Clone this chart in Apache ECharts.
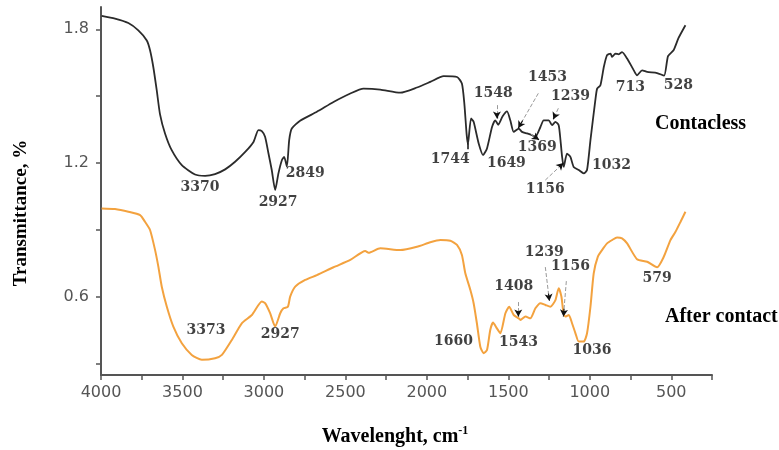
<!DOCTYPE html>
<html>
<head>
<meta charset="utf-8">
<script src="https://cdn.jsdelivr.net/npm/echarts@6/dist/echarts.min.js"></script>
<style>
  html, body { margin: 0; padding: 0; background: #fff; }
  #chart { width: 779px; height: 450px; }
</style>
</head>
<body>
<div id="chart"></div>
<script>
// FTIR spectra: wavenumber (cm-1) and transmittance for both samples
const contaclessWn = [3996, 3914, 3832, 3771, 3719, 3699, 3679, 3658, 3638, 3607, 3566, 3504, 3423, 3361, 3300, 3238, 3177, 3115, 3064, 3034, 3013, 2993, 2972, 2952, 2931, 2911, 2890, 2876, 2859, 2845, 2829, 2778, 2675, 2573, 2470, 2389, 2286, 2163, 2061, 1979, 1897, 1815, 1785, 1770, 1756, 1748, 1729, 1713, 1682, 1655, 1631, 1600, 1580, 1562, 1535, 1508, 1488, 1467, 1436, 1416, 1385, 1354, 1334, 1303, 1283, 1252, 1232, 1211, 1191, 1180, 1170, 1160, 1140, 1119, 1099, 1068, 1037, 1017, 996, 966, 955, 935, 914, 894, 873, 863, 843, 822, 802, 771, 730, 710, 679, 648, 587, 544, 520, 486, 456, 413];
const contaclessT  = [1.860, 1.848, 1.828, 1.795, 1.750, 1.706, 1.631, 1.527, 1.420, 1.333, 1.258, 1.191, 1.149, 1.143, 1.151, 1.172, 1.206, 1.250, 1.295, 1.348, 1.343, 1.318, 1.243, 1.169, 1.079, 1.154, 1.213, 1.228, 1.185, 1.303, 1.355, 1.390, 1.430, 1.474, 1.512, 1.534, 1.530, 1.516, 1.539, 1.564, 1.590, 1.586, 1.557, 1.467, 1.330, 1.285, 1.400, 1.385, 1.288, 1.236, 1.266, 1.362, 1.392, 1.372, 1.410, 1.432, 1.392, 1.340, 1.355, 1.340, 1.333, 1.325, 1.318, 1.362, 1.392, 1.392, 1.370, 1.385, 1.370, 1.303, 1.228, 1.183, 1.243, 1.228, 1.183, 1.169, 1.154, 1.169, 1.303, 1.482, 1.534, 1.549, 1.631, 1.684, 1.691, 1.676, 1.691, 1.688, 1.698, 1.669, 1.616, 1.594, 1.616, 1.609, 1.604, 1.592, 1.680, 1.706, 1.760, 1.818];

const afterWn = [3996, 3914, 3832, 3760, 3730, 3699, 3668, 3648, 3627, 3596, 3556, 3504, 3443, 3381, 3300, 3258, 3197, 3136, 3074, 3013, 2993, 2962, 2931, 2900, 2880, 2853, 2839, 2808, 2747, 2675, 2573, 2470, 2378, 2358, 2286, 2163, 2061, 1979, 1917, 1856, 1815, 1785, 1764, 1733, 1713, 1693, 1672, 1652, 1631, 1611, 1594, 1570, 1549, 1518, 1495, 1467, 1436, 1426, 1395, 1365, 1334, 1303, 1273, 1242, 1211, 1191, 1174, 1164, 1150, 1129, 1109, 1088, 1068, 1037, 1017, 996, 976, 951, 925, 894, 863, 833, 802, 771, 710, 648, 587, 546, 505, 474, 443, 413];
const afterT  = [0.997, 0.994, 0.982, 0.967, 0.937, 0.900, 0.810, 0.736, 0.646, 0.556, 0.467, 0.392, 0.340, 0.318, 0.325, 0.340, 0.407, 0.482, 0.519, 0.579, 0.572, 0.527, 0.467, 0.527, 0.549, 0.556, 0.601, 0.646, 0.676, 0.698, 0.733, 0.766, 0.806, 0.798, 0.818, 0.810, 0.825, 0.845, 0.855, 0.852, 0.833, 0.788, 0.706, 0.631, 0.572, 0.482, 0.377, 0.348, 0.362, 0.452, 0.485, 0.459, 0.437, 0.527, 0.556, 0.519, 0.504, 0.497, 0.512, 0.504, 0.549, 0.572, 0.564, 0.556, 0.586, 0.639, 0.601, 0.542, 0.512, 0.519, 0.482, 0.437, 0.400, 0.400, 0.437, 0.556, 0.706, 0.780, 0.810, 0.840, 0.855, 0.867, 0.863, 0.840, 0.769, 0.758, 0.733, 0.780, 0.855, 0.892, 0.937, 0.982];

// Peak annotations (text and anchor in wavenumber / transmittance units)
const contaclessPeaks = ['3370', '2927', '2849', '1744', '1649', '1548', '1453', '1239', '1369', '1156', '1032', '713', '528'];
const contaclessPeakX = [3392, 2913, 2747, 1856, 1512, 1592, 1260, 1119, 1322, 1273, 867, 751, 456];
const contaclessPeakY = [1.092, 1.025, 1.155, 1.218, 1.200, 1.513, 1.585, 1.500, 1.272, 1.083, 1.191, 1.540, 1.549];

const afterPeaks = ['3373', '2927', '1660', '1543', '1408', '1239', '1156', '1036', '579'];
const afterPeakX = [3355, 2900, 1836, 1437, 1467, 1279, 1119, 986, 587];
const afterPeakY = [0.452, 0.430, 0.400, 0.397, 0.646, 0.800, 0.736, 0.362, 0.684];

// Pointer arrows: [from, to]
const contaclessArrows = [
  [[1570, 1.46], [1570, 1.40]],
  [[1316, 1.513], [1439, 1.357]],
  [[1193, 1.446], [1224, 1.397]],
  [[1362, 1.330], [1312, 1.305]],
  [[1273, 1.124], [1162, 1.200]]
];
const afterArrows = [
  [[1439, 0.577], [1439, 0.512]],
  [[1273, 0.734], [1248, 0.582]],
  [[1144, 0.671], [1162, 0.512]]
];
const contaclessTick = [[1752, 1.289], [1752, 1.245]];

// Axis ticks and labels
const xTickValues = [250, 500, 750, 1000, 1250, 1500, 1750, 2000, 2250, 2500, 2750, 3000, 3250, 3500, 3750, 4000];
const xLabelValues = [500, 1000, 1500, 2000, 2500, 3000, 3500, 4000];
const yTickValues = [0.3, 0.6, 0.9, 1.2, 1.5, 1.8];
const yLabelValues = [0.6, 1.2, 1.8];

const BLACK = '#2b2b2b';
const ORANGE = '#f3a23f';
const SERIF = '"Liberation Serif", "Times New Roman", serif';
const NUM_FONT = '"DejaVu Serif", "Liberation Serif", serif';
const TICK_FONT = '"DejaVu Sans", sans-serif';

const zip = (a, b) => a.map((v, i) => [v, b[i]]);

function arrowLines(list, shaftColor) {
  const out = [];
  list.forEach(([from, to]) => {
    const f = 0.78;
    const mid = [from[0] + (to[0] - from[0]) * f, from[1] + (to[1] - from[1]) * f];
    out.push([
      { coord: from, symbol: 'none', lineStyle: { color: shaftColor, width: 1 } },
      { coord: mid, symbol: 'none' }
    ]);
    out.push([
      { coord: mid, symbol: 'none', lineStyle: { color: '#111', width: 1.2 } },
      { coord: to, symbol: 'arrow', symbolSize: [6, 7] }
    ]);
  });
  return out;
}

function peakLabels(texts, xs, ys, color) {
  return {
    type: 'scatter',
    symbolSize: 0,
    silent: true,
    data: texts.map((t, i) => [xs[i], ys[i], t]),
    label: {
      show: true,
      position: 'inside',
      formatter: p => p.value[2],
      fontFamily: NUM_FONT,
      fontWeight: 'bold',
      fontSize: 14,
      color: color
    },
    z: 5
  };
}

const chart = echarts.init(document.getElementById('chart'), null, { renderer: 'canvas' });

chart.setOption({
  animation: false,
  backgroundColor: '#fff',
  grid: { left: 101, right: 67, top: 7, bottom: 75, containLabel: false },
  xAxis: {
    type: 'value',
    inverse: true,
    min: 250,
    max: 4000,
    axisLine: { show: true, lineStyle: { color: '#555', width: 2 } },
    axisTick: { show: true, length: 5, inside: false, customValues: xTickValues, lineStyle: { color: '#555', width: 1.5 } },
    axisLabel: {
      customValues: xLabelValues,
      margin: 10,
      fontFamily: TICK_FONT,
      fontSize: 16,
      color: '#555',
      formatter: v => String(v)
    },
    splitLine: { show: false }
  },
  yAxis: {
    type: 'value',
    min: 0.25,
    max: 1.9,
    axisLine: { show: true, lineStyle: { color: '#555', width: 2 } },
    axisTick: { show: true, length: 5, inside: false, customValues: yTickValues, lineStyle: { color: '#555', width: 1.5 } },
    axisLabel: {
      customValues: yLabelValues,
      margin: 12,
      fontFamily: TICK_FONT,
      fontSize: 16,
      color: '#555',
      formatter: v => v.toFixed(1)
    },
    splitLine: { show: false }
  },
  graphic: [
    {
      type: 'text', x: 21, y: 213, rotation: Math.PI / 2,
      style: { text: 'Transmittance, %', font: 'bold 19px ' + SERIF, fill: '#000', align: 'center', verticalAlign: 'middle' }
    },
    {
      type: 'text', x: 395, y: 437,
      style: {
        text: '{b|Wavelenght, cm}{s|-1}',
        align: 'center',
        verticalAlign: 'middle',
        rich: {
          b: { font: 'bold 20px ' + SERIF, fill: '#000', lineHeight: 24 },
          s: { font: 'bold 12px ' + SERIF, fill: '#000', lineHeight: 12, verticalAlign: 'top' }
        }
      }
    },
    { type: 'text', left: 655, top: 114, style: { text: 'Contacless', font: 'bold 20px ' + SERIF, fill: '#000' } },
    { type: 'text', left: 665, top: 307, style: { text: 'After contact', font: 'bold 20px ' + SERIF, fill: '#000' } }
  ],
  series: [
    {
      name: 'Contacless',
      type: 'line',
      data: zip(contaclessWn, contaclessT),
      showSymbol: false,
      smooth: 0.2,
      lineStyle: { color: BLACK, width: 1.8 },
      itemStyle: { color: BLACK },
      markLine: {
        silent: true,
        animation: false,
        label: { show: false },
        emphasis: { disabled: true },
        data: arrowLines(contaclessArrows, '#9a9a9a').concat([[
          { coord: contaclessTick[0], symbol: 'none', lineStyle: { color: '#111', width: 1.5 } },
          { coord: contaclessTick[1], symbol: 'none' }
        ]])
      },
      z: 3
    },
    {
      name: 'After contact',
      type: 'line',
      data: zip(afterWn, afterT),
      showSymbol: false,
      smooth: 0.2,
      lineStyle: { color: ORANGE, width: 2 },
      itemStyle: { color: ORANGE },
      markLine: {
        silent: true,
        animation: false,
        label: { show: false },
        emphasis: { disabled: true },
        data: arrowLines(afterArrows, '#9a9a9a')
      },
      z: 3
    },
    peakLabels(contaclessPeaks, contaclessPeakX, contaclessPeakY, '#111'),
    peakLabels(afterPeaks, afterPeakX, afterPeakY, '#111')
  ]
});
</script>
</body>
</html>
